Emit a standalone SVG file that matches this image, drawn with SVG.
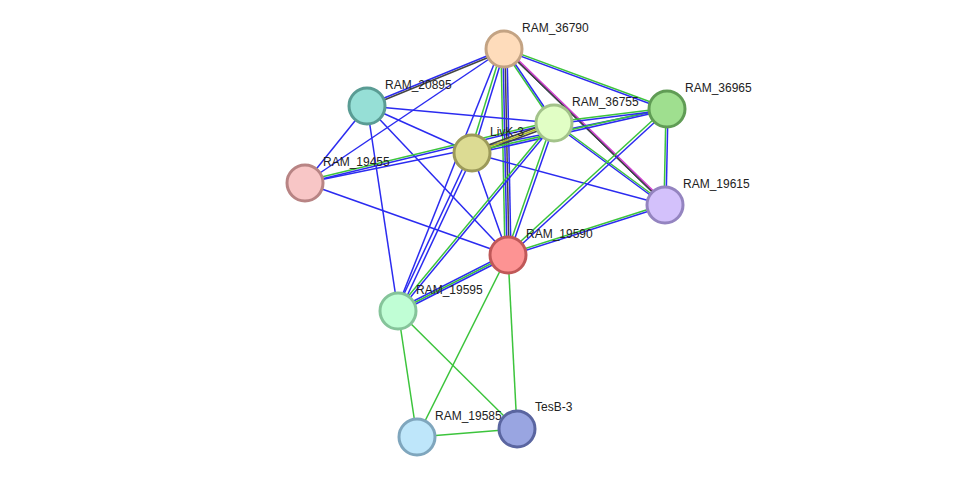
<svg xmlns="http://www.w3.org/2000/svg" width="976" height="483" viewBox="0 0 976 483">
<style>
.b{stroke:#2b2bf0;stroke-width:1.5;fill:none}
.g{stroke:#3cc43c;stroke-width:1.5;fill:none}
.k{stroke:#444;stroke-width:1.5;fill:none}
.m{stroke:#d040d0;stroke-width:1.5;fill:none}
.y{stroke:#b0c020;stroke-width:1.5;fill:none}
.n{stroke-width:3}
text{font-family:"Liberation Sans",Arial,sans-serif;font-size:12px;fill:#222}
</style>
<rect width="976" height="483" fill="#fff"/>
<g id="edges">
<line class="b" x1="504" y1="49" x2="367" y2="105"/><line class="k" x1="504" y1="51" x2="367" y2="107"/>
<line class="b" x1="504" y1="49" x2="305" y2="183"/>
<line class="g" x1="502" y1="49" x2="470" y2="153"/><line class="b" x1="505" y1="49" x2="473" y2="153"/>
<line class="b" x1="500" y1="49" x2="396" y2="311"/>
<line class="g" x1="501" y1="49" x2="505" y2="255"/><line class="b" x1="503" y1="49" x2="507" y2="255"/><line class="k" x1="505" y1="49" x2="509" y2="255"/><line class="b" x1="507" y1="49" x2="511" y2="255"/>
<line class="g" x1="503" y1="49" x2="553" y2="123"/><line class="b" x1="505" y1="49" x2="555" y2="123"/>
<line class="g" x1="503" y1="47" x2="664" y2="203"/><line class="b" x1="504" y1="48" x2="665" y2="204"/><line class="k" x1="505" y1="49" x2="666" y2="205"/><line class="k" x1="506" y1="50" x2="667" y2="206"/><line class="m" x1="507" y1="49" x2="668" y2="205"/>
<line class="g" x1="504" y1="48" x2="667" y2="108"/><line class="b" x1="504" y1="50" x2="667" y2="110"/>
<line class="b" x1="367" y1="106" x2="554" y2="123"/>
<line class="b" x1="367" y1="106" x2="508" y2="255"/>
<line class="b" x1="367" y1="106" x2="472" y2="153"/>
<line class="b" x1="367" y1="106" x2="305" y2="183"/>
<line class="b" x1="367" y1="106" x2="398" y2="311"/>
<line class="g" x1="305" y1="181" x2="554" y2="121"/><line class="b" x1="305" y1="183" x2="554" y2="123"/>
<line class="b" x1="305" y1="183" x2="667" y2="109"/>
<line class="b" x1="305" y1="183" x2="508" y2="255"/>
<line class="k" x1="472" y1="151" x2="554" y2="121"/><line class="y" x1="472" y1="153" x2="554" y2="123"/><line class="k" x1="472" y1="155" x2="554" y2="125"/>
<line class="g" x1="472" y1="152" x2="667" y2="108"/><line class="b" x1="472" y1="154" x2="667" y2="110"/>
<line class="b" x1="472" y1="153" x2="665" y2="205"/>
<line class="b" x1="472" y1="153" x2="508" y2="255"/>
<line class="b" x1="470" y1="153" x2="396" y2="311"/><line class="b" x1="474" y1="153" x2="400" y2="311"/>
<line class="g" x1="552" y1="123" x2="506" y2="255"/><line class="b" x1="555" y1="123" x2="509" y2="255"/>
<line class="g" x1="552" y1="123" x2="396" y2="311"/><line class="b" x1="555" y1="123" x2="399" y2="311"/>
<line class="g" x1="554" y1="122" x2="667" y2="108"/><line class="b" x1="554" y1="124" x2="667" y2="110"/>
<line class="g" x1="554" y1="122" x2="665" y2="204"/><line class="b" x1="554" y1="124" x2="665" y2="206"/>
<line class="g" x1="666" y1="109" x2="664" y2="205"/><line class="b" x1="668" y1="109" x2="666" y2="205"/>
<line class="g" x1="666" y1="108" x2="507" y2="254"/><line class="b" x1="668" y1="110" x2="509" y2="256"/>
<line class="g" x1="665" y1="204" x2="508" y2="254"/><line class="b" x1="665" y1="206" x2="508" y2="256"/>
<line class="b" x1="508" y1="253" x2="398" y2="309"/><line class="g" x1="508" y1="255" x2="398" y2="311"/><line class="b" x1="508" y1="257" x2="398" y2="313"/>
<line class="g" x1="508" y1="255" x2="417" y2="437"/>
<line class="g" x1="508" y1="255" x2="517" y2="429"/>
<line class="g" x1="398" y1="311" x2="417" y2="437"/>
<line class="g" x1="398" y1="311" x2="517" y2="429"/>
<line class="g" x1="417" y1="437" x2="517" y2="429"/>
</g>
<g id="n36790"><circle class="n" cx="504" cy="49" r="18" fill="#fedcbb" stroke="#c3a383"/><text x="522" y="32">RAM_36790</text></g>
<g id="n20895"><circle class="n" cx="367" cy="106" r="18" fill="#96dfd6" stroke="#5a9c94"/><text x="385" y="89">RAM_20895</text></g>
<g id="n36755"><circle class="n" cx="554" cy="123" r="18" fill="#e1fec5" stroke="#a3c38a"/><text x="572" y="106">RAM_36755</text></g>
<g id="n36965"><circle class="n" cx="667" cy="109" r="18" fill="#9fdf8f" stroke="#609c55"/><text x="685" y="92">RAM_36965</text></g>
<g id="nLivK"><circle class="n" cx="472" cy="153" r="18" fill="#dcdb93" stroke="#9c9a5a"/><text x="490" y="136">LivK-3</text></g>
<g id="n19455"><circle class="n" cx="305" cy="183" r="18" fill="#f8c6c6" stroke="#b88484"/><text x="323" y="166">RAM_19455</text></g>
<g id="n19615"><circle class="n" cx="665" cy="205" r="18" fill="#d3c1fb" stroke="#9484c0"/><text x="683" y="188">RAM_19615</text></g>
<g id="n19590"><circle class="n" cx="508" cy="255" r="18" fill="#fd9393" stroke="#c05858"/><text x="526" y="238">RAM_19590</text></g>
<g id="n19595"><circle class="n" cx="398" cy="311" r="18" fill="#c0fed5" stroke="#85c49a"/><text x="416" y="294">RAM_19595</text></g>
<g id="n19585"><circle class="n" cx="417" cy="437" r="18" fill="#bee6fa" stroke="#7fa6bd"/><text x="435" y="420">RAM_19585</text></g>
<g id="nTesB"><circle class="n" cx="517" cy="429" r="18" fill="#99a5e1" stroke="#5a65a0"/><text x="535" y="411">TesB-3</text></g>
</svg>
